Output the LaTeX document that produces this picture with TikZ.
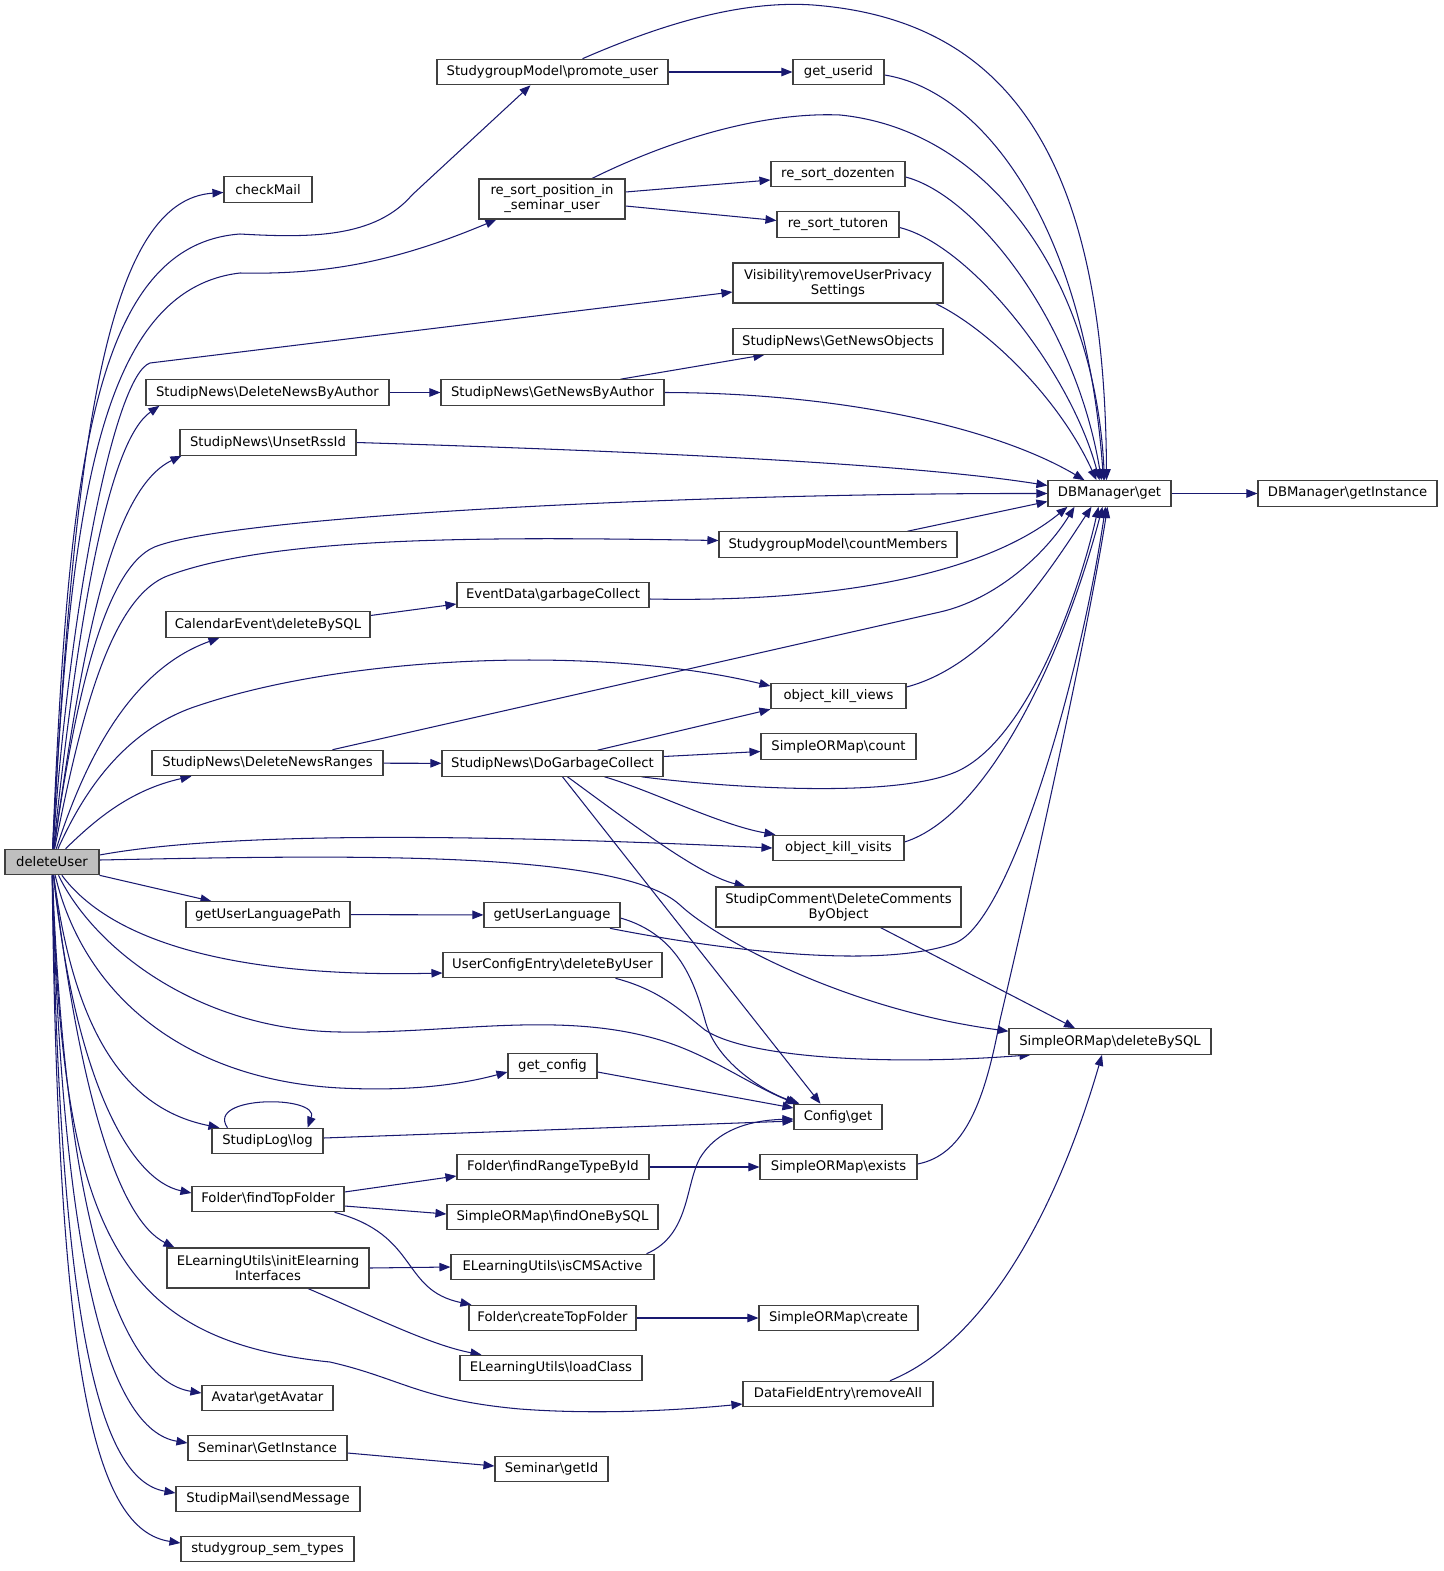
\documentclass[tikz,border=0pt]{standalone}
\usepackage{fontspec}
\setmainfont{DejaVu Sans}
\usetikzlibrary{arrows.meta,calc,backgrounds}
\definecolor{edgec}{HTML}{191970}
\definecolor{boxc}{HTML}{404040}
\definecolor{rootc}{HTML}{BFBFBF}
\newcommand\nfont{\fontsize{13.2}{15}\selectfont}
\newcommand\bsl{\textbackslash}
\tikzset{
  nd/.style={draw=boxc, line width=1.1pt, fill=white, inner sep=1pt, font=\nfont, align=center, minimum height=25.5pt},
  e/.style={draw=edgec, line width=1.05pt, -{Triangle[length=11pt,width=8.5pt]}},
}
\begin{document}
\begin{tikzpicture}[x=1pt,y=-1pt]
\useasboundingbox (0,0) rectangle (1443,1571);
\node[nd, fill=rootc, minimum width=94pt] (du) at (52,862) {deleteUser};
\node[nd, minimum width=88pt] (cm) at (268,189.5) {checkMail};
\node[nd, minimum width=231pt] (pu) at (552.5,72) {StudygroupModel\bsl promote\_user};
\node[nd, minimum width=91pt] (gu) at (838.5,72) {get\_userid};
\node[nd, minimum width=146pt, minimum height=40pt] (rsp) at (552,199) {re\_sort\_position\_in\\\_seminar\_user};
\node[nd, minimum width=134pt] (rsd) at (838,174) {re\_sort\_dozenten};
\node[nd, minimum width=122pt] (rst) at (838,224.5) {re\_sort\_tutoren};
\node[nd, minimum width=210pt, minimum height=40pt] (vis) at (838,283) {Visibility\bsl removeUserPrivacy\\Settings};
\node[nd, minimum width=210pt] (gno) at (838,341.5) {StudipNews\bsl GetNewsObjects};
\node[nd, minimum width=243pt] (dnba) at (267.5,392.5) {StudipNews\bsl DeleteNewsByAuthor};
\node[nd, minimum width=223pt] (gnba) at (552.5,392.5) {StudipNews\bsl GetNewsByAuthor};
\node[nd, minimum width=176pt] (unset) at (268,442.5) {StudipNews\bsl UnsetRssId};
\node[nd, minimum width=123pt] (dbget) at (1109.5,493.5) {DBManager\bsl get};
\node[nd, minimum width=179pt] (dbgi) at (1347.5,493.5) {DBManager\bsl getInstance};
\node[nd, minimum width=238pt] (cmem) at (838,544.5) {StudygroupModel\bsl countMembers};
\node[nd, minimum width=192pt] (gc) at (553,595) {EventData\bsl garbageCollect};
\node[nd, minimum width=204pt] (ced) at (268,624.5) {CalendarEvent\bsl deleteBySQL};
\node[nd, minimum width=135pt] (okv) at (838.5,696) {object\_kill\_views};
\node[nd, minimum width=155pt] (socount) at (838.5,746.5) {SimpleORMap\bsl count};
\node[nd, minimum width=231pt] (dnr) at (267.5,763) {StudipNews\bsl DeleteNewsRanges};
\node[nd, minimum width=221pt] (dgc) at (552.5,763.5) {StudipNews\bsl DoGarbageCollect};
\node[nd, minimum width=131pt] (okvis) at (838.5,848) {object\_kill\_visits};
\node[nd, minimum width=245pt, minimum height=40pt] (dco) at (838.5,907) {StudipComment\bsl DeleteComments\\ByObject};
\node[nd, minimum width=164pt] (gulp) at (268,914.5) {getUserLanguagePath};
\node[nd, minimum width=136pt] (gul) at (552,915) {getUserLanguage};
\node[nd, minimum width=219pt] (uce) at (552.5,965) {UserConfigEntry\bsl deleteByUser};
\node[nd, minimum width=202pt] (sdbs) at (1110,1041.5) {SimpleORMap\bsl deleteBySQL};
\node[nd, minimum width=89pt] (gcfg) at (552.5,1066) {get\_config};
\node[nd, minimum width=88pt] (cfg) at (838,1117) {Config\bsl get};
\node[nd, minimum width=111pt] (slog) at (267.5,1141) {StudipLog\bsl log};
\node[nd, minimum width=192pt] (frt) at (553,1167) {Folder\bsl findRangeTypeById};
\node[nd, minimum width=157pt] (exi) at (838.5,1167) {SimpleORMap\bsl exists};
\node[nd, minimum width=152pt] (ftf) at (268,1199) {Folder\bsl findTopFolder};
\node[nd, minimum width=211pt] (fob) at (552.5,1217) {SimpleORMap\bsl findOneBySQL};
\node[nd, minimum width=202pt, minimum height=40pt] (eli) at (268,1268) {ELearningUtils\bsl initElearning\\Interfaces};
\node[nd, minimum width=203pt] (cms) at (552.5,1267) {ELearningUtils\bsl isCMSActive};
\node[nd, minimum width=167pt] (ctf) at (552.5,1318) {Folder\bsl createTopFolder};
\node[nd, minimum width=159pt] (soc) at (838.5,1318) {SimpleORMap\bsl create};
\node[nd, minimum width=182pt] (lc) at (551,1368) {ELearningUtils\bsl loadClass};
\node[nd, minimum width=190pt] (dfe) at (838,1394) {DataFieldEntry\bsl removeAll};
\node[nd, minimum width=131pt] (av) at (267.5,1398) {Avatar\bsl getAvatar};
\node[nd, minimum width=159pt] (sgi) at (267.5,1448) {Seminar\bsl GetInstance};
\node[nd, minimum width=113pt] (sid) at (551.5,1469) {Seminar\bsl getId};
\node[nd, minimum width=184pt] (smail) at (268,1499) {StudipMail\bsl sendMessage};
\node[nd, minimum width=173pt] (sst) at (267.5,1549) {studygroup\_sem\_types};

\begin{pgfonlayer}{background}
% from deleteUser
\draw[e] (du) .. controls (75,420) and (110,200) .. (cm);
\draw[e] (du) .. controls (68,480) and (90,245) .. (240,234) .. controls (310,238) and (375,238) .. (412,195) -- ($(pu.south)+(-22,0)$);
\draw[e] (du) .. controls (70,520) and (95,290) .. (240,273) .. controls (330,275) and (400,260) .. ($(rsp.south west)+(18,0)$);
\draw[e] (du) .. controls (70,600) and (115,375) .. (150,363) -- ($(vis.west)+(0,9)$);
\draw[e] (du) .. controls (80,600) and (110,440) .. ($(dnba.south west)+(14,0)$);
\draw[e] (du) .. controls (82,650) and (110,490) .. ($(unset.south west)+(2,0)$);
\draw[e] (du) .. controls (75,700) and (105,560) .. (160,545) .. controls (250,515) and (700,493) .. (dbget.west);
\draw[e] (du) .. controls (80,720) and (110,595) .. (170,575) .. controls (280,535) and (500,537) .. ($(cmem.west)+(0,-4)$);
\draw[e] (du) .. controls (85,760) and (130,670) .. ($(ced.south west)+(54,0)$);
\draw[e] (du) .. controls (80,800) and (120,730) .. (200,705) .. controls (350,655) and (600,645) .. ($(okv.west)+(0,-10)$);
\draw[e] (du) .. controls (95,820) and (130,790) .. ($(dnr.south west)+(40,0)$);
\draw[e] ($(du.east)+(0,-7)$) .. controls (220,833) and (450,833) .. (okvis.west);
\draw[e] ($(du.east)+(0,-2)$) .. controls (350,855) and (620,850) .. (680,905) .. controls (720,942) and (850,1010) .. ($(sdbs.north west)+(0,3)$);
\draw[e] (du.south east) -- ($(gulp.north west)+(26,0)$);
\draw[e] (du) .. controls (110,940) and (230,978) .. ($(uce.west)+(0,8)$);
\draw[e] (du) .. controls (95,950) and (200,1030) .. (340,1032) .. controls (450,1034) and (560,1010) .. (660,1040) .. controls (710,1055) and (750,1085) .. ($(cfg.north west)+(3,0)$);
\draw[e] (du) .. controls (85,1000) and (190,1080) .. (340,1088) .. controls (420,1092) and (470,1082) .. ($(gcfg.west)+(0,6)$);
\draw[e] (du) .. controls (75,1040) and (130,1110) .. ($(slog.north west)+(8,0)$);
\draw[e] ($(slog.north west)+(16,0)$) .. controls (205,1095) and (320,1095) .. ($(slog.north east)+(-16,0)$);
\draw[e] (du) .. controls (75,1080) and (130,1180) .. ($(ftf.west)+(0,-6)$);
\draw[e] (du) .. controls (80,1100) and (120,1220) .. ($(eli.north west)+(8,0)$);
\draw[e] (du) .. controls (62,1230) and (115,1340) .. (330,1362) .. controls (400,1378) and (420,1400) .. (520,1409) .. controls (600,1415) and (680,1410) .. ($(dfe.west)+(0,10)$);
\draw[e] (du) .. controls (65,1220) and (120,1380) .. ($(av.west)+(0,-5)$);
\draw[e] (du) .. controls (62,1270) and (110,1430) .. ($(sgi.west)+(0,-5)$);
\draw[e] (du) .. controls (60,1330) and (100,1480) .. ($(smail.west)+(0,-6)$);
\draw[e] (du) .. controls (58,1380) and (95,1530) .. ($(sst.west)+(0,-6)$);
% top group
\draw[e] (pu) -- (gu);
\draw[e] ($(pu.north)+(30,0)$) .. controls (660,25) and (740,0) .. (813,5) .. controls (1010,20) and (1105,160) .. ($(dbget.north)+(-3,0)$);
\draw[e] ($(gu.east)+(0,3)$) .. controls (980,90) and (1085,220) .. ($(dbget.north)+(-6,0)$);
\draw[e] ($(rsp.east)+(0,-7)$) -- ($(rsd.west)+(0,6)$);
\draw[e] ($(rsp.east)+(0,7)$) -- ($(rst.west)+(0,-4)$);
\draw[e] ($(rsp.north)+(40,0)$) .. controls (680,135) and (770,112) .. (840,115) .. controls (990,130) and (1095,280) .. ($(dbget.north)+(-5,0)$);
\draw[e] ($(rsd.east)+(0,3)$) .. controls (975,195) and (1075,320) .. ($(dbget.north)+(-8,0)$);
\draw[e] ($(rst.east)+(0,3)$) .. controls (970,245) and (1070,370) .. ($(dbget.north)+(-10,0)$);
\draw[e] ($(vis.south east)+(-8,0)$) .. controls (990,330) and (1060,400) .. ($(dbget.north)+(-13,0)$);
\draw[e] (dnba) -- (gnba);
\draw[e] ($(gnba.north)+(68,0)$) -- ($(gno.south west)+(32,0)$);
\draw[e] (gnba.east) .. controls (850,393) and (1000,430) .. ($(dbget.north)+(-25,0)$);
\draw[e] (unset.east) .. controls (600,450) and (900,462) .. ($(dbget.west)+(0,-8)$);
\draw[e] ($(cmem.north east)+(-50,0)$) -- ($(dbget.west)+(0,8)$);
\draw[e] (dbget) -- (dbgi);
% middle group
\draw[e] ($(ced.east)+(0,-9)$) -- ($(gc.west)+(0,9)$);
\draw[e] ($(gc.east)+(0,4)$) .. controls (850,603) and (990,570) .. ($(dbget.south)+(-42,0)$);
\draw[e] ($(dnr.north)+(65,0)$) -- (940,612) .. controls (995,599.5) and (1045,555) .. ($(dbget.south)+(-35,0)$);
\draw[e] (dnr) -- (dgc);
\draw[e] ($(dgc.north)+(45,0)$) -- (okv.south west);
\draw[e] ($(dgc.east)+(0,-7)$) -- ($(socount.west)+(0,5)$);
\draw[e] ($(dgc.south east)+(-22,0)$) .. controls (720,787) and (900,800) .. (960,770) .. controls (1030,735) and (1080,590) .. ($(dbget.south)+(-11,0)$);
\draw[e] ($(dgc.south)+(52,0)$) .. controls (650,790) and (720,825) .. ($(okvis.north west)+(3,0)$);
\draw[e] ($(dgc.south)+(15,0)$) .. controls (640,830) and (700,875) .. ($(dco.north west)+(30,0)$);
\draw[e] ($(dgc.south)+(10,0)$) -- ($(cfg.north west)+(27,0)$);
\draw[e] ($(okv.east)+(0,-9)$) .. controls (990,665) and (1050,570) .. ($(dbget.south)+(-18,0)$);
\draw[e] ($(okvis.east)+(0,-6)$) .. controls (990,815) and (1065,650) .. ($(dbget.south)+(-7,0)$);
\draw[e] ($(gul.south)+(58,0)$) .. controls (720,950) and (880,970) .. (955,943) .. controls (1010,922) and (1080,680) .. ($(dbget.south)+(-4,0)$);
\draw[e] ($(gul.east)+(0,3)$) .. controls (680,935) and (695,985) .. (705,1020) .. controls (715,1060) and (760,1090) .. ($(cfg.north west)+(6,0)$);
\draw[e] (gulp) -- (gul);
\draw[e] ($(dco.south)+(42,0)$) -- ($(sdbs.north)+(-35,0)$);
\draw[e] ($(uce.south)+(63,0)$) .. controls (660,990) and (680,1010) .. (705,1030) .. controls (750,1060) and (900,1065) .. ($(sdbs.south west)+(22,0)$);
% lower group
\draw[e] ($(gcfg.east)+(0,6)$) -- ($(cfg.west)+(0,-9)$);
\draw[e] ($(slog.east)+(0,-3)$) -- ($(cfg.west)+(0,4)$);
\draw[e] ($(cms.north east)+(-8,0)$) .. controls (690,1235) and (685,1185) .. (700,1158) .. controls (720,1125) and (760,1120) .. ($(cfg.west)+(0,2)$);
\draw[e] (eli.east) -- (cms.west);
\draw[e] ($(eli.south)+(40,0)$) .. controls (370,1315) and (430,1345) .. ($(lc.north west)+(22,0)$);
\draw[e] ($(ftf.east)+(0,-7)$) -- ($(frt.west)+(0,9)$);
\draw[e] ($(ftf.east)+(0,7)$) -- ($(fob.west)+(0,-3)$);
\draw[e] ($(ftf.south east)+(-10,0)$) .. controls (420,1235) and (400,1290) .. ($(ctf.north west)+(3,0)$);
\draw[e] (frt) -- (exi);
\draw[e] (ctf) -- (soc);
\draw[e] ($(exi.east)+(0,-3)$) .. controls (965,1155) and (985,1100) .. (1000,1020) .. controls (1040,850) and (1090,620) .. ($(dbget.south)+(-2,0)$);
\draw[e] ($(dfe.north)+(52,0)$) .. controls (990,1340) and (1060,1200) .. ($(sdbs.south)+(-8,0)$);
\draw[e] ($(sgi.east)+(0,5)$) -- ($(sid.west)+(0,-3)$);
\end{pgfonlayer}
\end{tikzpicture}
\end{document}
